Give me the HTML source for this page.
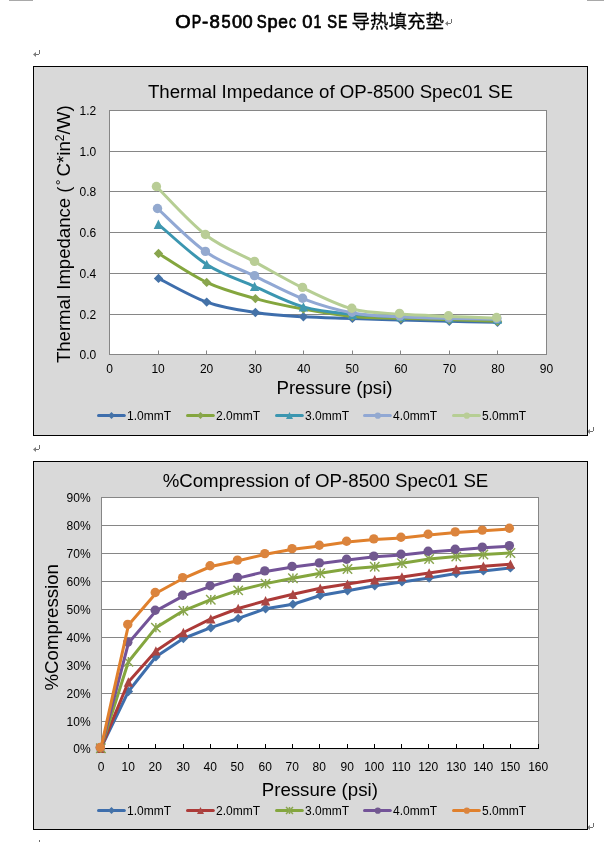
<!DOCTYPE html>
<html lang="zh">
<head>
<meta charset="utf-8">
<title>OP-8500 Spec 01 SE</title>
<style>
html,body{margin:0;padding:0;background:#fff;}
body{width:604px;height:842px;position:relative;overflow:hidden;font-family:"Liberation Sans", sans-serif;}
svg text{white-space:pre;}
</style>
</head>
<body>
<svg width="604" height="842" viewBox="0 0 604 842" font-family='"Liberation Sans", sans-serif' fill="#000" style="position:absolute;left:0;top:0;will-change:transform">
<rect x="9" y="0" width="24" height="1" fill="#a9a9a9"/>
<rect x="587" y="0" width="17" height="1" fill="#a9a9a9"/>
<g role="heading" aria-label="OP-8500 Spec 01 SE" font-size="17.7" stroke="#000" stroke-width="0.7" stroke-linejoin="round">
<text transform="translate(175.24 27.5) scale(1.12 1)">O</text>
<text transform="translate(191.82 27.5) scale(0.8 1)">P</text>
<text transform="translate(202.01 27.5) scale(1.06 1)">-</text>
<text transform="translate(209.54 27.5) scale(1.05 1)">8</text>
<text transform="translate(221.59 27.5) scale(0.93 1)">5</text>
<text transform="translate(231.94 27.5) scale(1.03 1)">0</text>
<text transform="translate(242.44 27.5) scale(1.03 1)">0</text>
<text transform="translate(256.67 27.5) scale(0.84 1)">S</text>
<text transform="translate(267.47 27.5) scale(1.03 1)">p</text>
<text transform="translate(278.22 27.5) scale(0.98 1)">e</text>
<text transform="translate(289.05 27.5) scale(0.8 1)">c</text>
<text transform="translate(302.13 27.5) scale(1.04 1)">0</text>
<text transform="translate(313.47 27.5) scale(0.8 1)">1</text>
<text transform="translate(327.18 27.5) scale(0.83 1)">S</text>
<text transform="translate(338.05 27.5) scale(0.8 1)">E</text>
</g>
<text x="351.5" y="27.6" font-size="18.5" font-family='"Liberation Sans", "Noto Sans CJK SC", sans-serif' stroke="#000" stroke-width="0.26" textLength="92.5" lengthAdjust="spacingAndGlyphs">导热填充垫</text>
<path d="M451.5 19V23M451 23.5H446" stroke="#707070" stroke-width="1" fill="none"/><path d="M445 23.5L448 21V26Z" fill="#7c7c7c"/>
<path d="M39.5 50V54M39 54.5H34" stroke="#707070" stroke-width="1" fill="none"/><path d="M33 54.5L36 52V57Z" fill="#7c7c7c"/>
<path d="M593.5 427V431M593 431.5H588" stroke="#707070" stroke-width="1" fill="none"/><path d="M587 431.5L590 429V434Z" fill="#7c7c7c"/>
<path d="M593.5 823V827M593 827.5H588" stroke="#707070" stroke-width="1" fill="none"/><path d="M587 827.5L590 825V830Z" fill="#7c7c7c"/>
<rect x="33.5" y="66.5" width="554" height="369" fill="#d9d9d9" stroke="#000" stroke-width="1"/>
<rect x="109.5" y="110.5" width="437" height="244" fill="#fff" stroke="#868686" stroke-width="1"/>
<path d="M109.5 314.5H546.5M109.5 273.5H546.5M109.5 232.5H546.5M109.5 191.5H546.5M109.5 151.5H546.5" stroke="#868686" stroke-width="1" fill="none"/>
<path d="M158.5 354.5V350.5M206.5 354.5V350.5M255.5 354.5V350.5M303.5 354.5V350.5M352.5 354.5V350.5M400.5 354.5V350.5M449.5 354.5V350.5M497.5 354.5V350.5" stroke="#868686" stroke-width="1" fill="none"/>
<text x="330.5" y="98" font-size="18.67" text-anchor="middle">Thermal Impedance of OP-8500 Spec01 SE</text>
<g font-size="12" text-anchor="end">
<text x="96.3" y="358.6">0.0</text>
<text x="96.3" y="318.6">0.2</text>
<text x="96.3" y="277.6">0.4</text>
<text x="96.3" y="236.6">0.6</text>
<text x="96.3" y="195.6">0.8</text>
<text x="96.3" y="155.6">1.0</text>
<text x="96.3" y="114.6">1.2</text>
</g>
<g font-size="12" text-anchor="middle">
<text x="109.5" y="373">0</text>
<text x="158.06" y="373">10</text>
<text x="206.61" y="373">20</text>
<text x="255.17" y="373">30</text>
<text x="303.72" y="373">40</text>
<text x="352.28" y="373">50</text>
<text x="400.83" y="373">60</text>
<text x="449.39" y="373">70</text>
<text x="497.94" y="373">80</text>
<text x="546.5" y="373">90</text>
</g>
<text x="334.5" y="394.3" font-size="18.67" text-anchor="middle">Pressure (psi)</text>
<g transform="translate(69.8 0) rotate(-90)" font-size="18.67">
<text x="-363.1" textLength="176.6" lengthAdjust="spacingAndGlyphs">Thermal Impedance (</text>
<text x="-185.2" y="-3.8" font-size="14.5">°</text>
<text x="-176.4">C*in</text>
<text x="-141.3" y="-6.2" font-size="12">2</text>
<text x="-134.4">/W)</text>
</g>
<path d="M158.5 278.4 C166.53 282.35 190.55 296.42 206.7 302.1 C222.85 307.78 239.28 310.05 255.4 312.5 C271.52 314.95 287.23 315.82 303.4 316.8 C319.57 317.78 336.15 317.85 352.4 318.4 C368.65 318.95 384.75 319.62 400.9 320.1 C417.05 320.58 433.2 320.93 449.3 321.3 C465.4 321.67 489.47 322.13 497.5 322.3" stroke="#3e6eac" fill="none" stroke-width="3" stroke-linecap="round" stroke-linejoin="round"/>
<path d="M158.5 273.7L163.2 278.4L158.5 283.1L153.8 278.4Z" fill="#4572a7"/>
<path d="M206.7 297.4L211.4 302.1L206.7 306.8L202 302.1Z" fill="#4572a7"/>
<path d="M255.4 307.8L260.1 312.5L255.4 317.2L250.7 312.5Z" fill="#4572a7"/>
<path d="M303.4 312.1L308.1 316.8L303.4 321.5L298.7 316.8Z" fill="#4572a7"/>
<path d="M352.4 313.7L357.1 318.4L352.4 323.1L347.7 318.4Z" fill="#4572a7"/>
<path d="M400.9 315.4L405.6 320.1L400.9 324.8L396.2 320.1Z" fill="#4572a7"/>
<path d="M449.3 316.6L454 321.3L449.3 326L444.6 321.3Z" fill="#4572a7"/>
<path d="M497.5 317.6L502.2 322.3L497.5 327L492.8 322.3Z" fill="#4572a7"/>
<path d="M158.5 253.5 C166.53 258.32 190.55 274.88 206.7 282.4 C222.85 289.92 239.28 294.15 255.4 298.6 C271.52 303.05 287.23 306.13 303.4 309.1 C319.57 312.07 336.15 314.87 352.4 316.4 C368.65 317.93 384.75 317.73 400.9 318.3 C417.05 318.87 433.2 319.32 449.3 319.8 C465.4 320.28 489.47 320.97 497.5 321.2" stroke="#84a63e" fill="none" stroke-width="3" stroke-linecap="round" stroke-linejoin="round"/>
<path d="M158.5 248.8L163.2 253.5L158.5 258.2L153.8 253.5Z" fill="#89a54e"/>
<path d="M206.7 277.7L211.4 282.4L206.7 287.1L202 282.4Z" fill="#89a54e"/>
<path d="M255.4 293.9L260.1 298.6L255.4 303.3L250.7 298.6Z" fill="#89a54e"/>
<path d="M303.4 304.4L308.1 309.1L303.4 313.8L298.7 309.1Z" fill="#89a54e"/>
<path d="M352.4 311.7L357.1 316.4L352.4 321.1L347.7 316.4Z" fill="#89a54e"/>
<path d="M400.9 313.6L405.6 318.3L400.9 323L396.2 318.3Z" fill="#89a54e"/>
<path d="M449.3 315.1L454 319.8L449.3 324.5L444.6 319.8Z" fill="#89a54e"/>
<path d="M497.5 316.5L502.2 321.2L497.5 325.9L492.8 321.2Z" fill="#89a54e"/>
<path d="M158.4 224.3 C166.45 230.98 190.67 254.05 206.7 264.4 C222.73 274.75 238.48 279.32 254.6 286.4 C270.72 293.48 287.07 302.25 303.4 306.9 C319.73 311.55 336.35 312.68 352.6 314.3 C368.85 315.92 384.78 316 400.9 316.6 C417.02 317.2 433.22 317.5 449.3 317.9 C465.38 318.3 489.38 318.82 497.4 319" stroke="#3b96b0" fill="none" stroke-width="3" stroke-linecap="round" stroke-linejoin="round"/>
<path d="M158.4 219.6L163.1 229L153.7 229Z" fill="#4198af"/>
<path d="M206.7 259.7L211.4 269.1L202 269.1Z" fill="#4198af"/>
<path d="M254.6 281.7L259.3 291.1L249.9 291.1Z" fill="#4198af"/>
<path d="M303.4 302.2L308.1 311.6L298.7 311.6Z" fill="#4198af"/>
<path d="M352.6 309.6L357.3 319L347.9 319Z" fill="#4198af"/>
<path d="M400.9 311.9L405.6 321.3L396.2 321.3Z" fill="#4198af"/>
<path d="M449.3 313.2L454 322.6L444.6 322.6Z" fill="#4198af"/>
<path d="M497.4 314.3L502.1 323.7L492.7 323.7Z" fill="#4198af"/>
<path d="M158.2 209.2 C166.18 216.35 189.93 240.92 206.1 252.1 C222.27 263.28 239 268.5 255.2 276.3 C271.4 284.1 287.05 292.78 303.3 298.9 C319.55 305.02 336.48 310.03 352.7 313 C368.92 315.97 384.47 315.8 400.6 316.7 C416.73 317.6 433.33 317.97 449.5 318.4 C465.67 318.83 489.58 319.15 497.6 319.3" stroke="#91a8d4" fill="none" stroke-width="3" stroke-linecap="round" stroke-linejoin="round"/>
<circle cx="157.5" cy="208.5" r="4.7" fill="#93a9cf"/>
<circle cx="205.4" cy="251.4" r="4.7" fill="#93a9cf"/>
<circle cx="254.5" cy="275.6" r="4.7" fill="#93a9cf"/>
<circle cx="302.6" cy="298.2" r="4.7" fill="#93a9cf"/>
<circle cx="352" cy="312.3" r="4.7" fill="#93a9cf"/>
<circle cx="399.9" cy="316" r="4.7" fill="#93a9cf"/>
<circle cx="448.8" cy="317.7" r="4.7" fill="#93a9cf"/>
<circle cx="496.9" cy="318.6" r="4.7" fill="#93a9cf"/>
<path d="M157.1 187.2 C165.27 195.2 189.75 222.72 206.1 235.2 C222.45 247.68 239.02 253.28 255.2 262.1 C271.38 270.92 286.98 280.28 303.2 288.1 C319.42 295.92 336.33 304.67 352.5 309 C368.67 313.33 384.08 312.87 400.2 314.1 C416.32 315.33 433.02 315.72 449.2 316.4 C465.38 317.08 489.28 317.9 497.3 318.2" stroke="#b6ce94" fill="none" stroke-width="3" stroke-linecap="round" stroke-linejoin="round"/>
<circle cx="156.4" cy="186.5" r="4.7" fill="#b9cd96"/>
<circle cx="205.4" cy="234.5" r="4.7" fill="#b9cd96"/>
<circle cx="254.5" cy="261.4" r="4.7" fill="#b9cd96"/>
<circle cx="302.5" cy="287.4" r="4.7" fill="#b9cd96"/>
<circle cx="351.8" cy="308.3" r="4.7" fill="#b9cd96"/>
<circle cx="399.5" cy="313.4" r="4.7" fill="#b9cd96"/>
<circle cx="448.5" cy="315.7" r="4.7" fill="#b9cd96"/>
<circle cx="496.6" cy="317.5" r="4.7" fill="#b9cd96"/>
<path d="M98.5 415.5H124.3" stroke="#3e6eac" stroke-width="3" stroke-linecap="round" fill="none"/>
<path d="M111.5 412L115 415.5L111.5 419L108 415.5Z" fill="#4572a7"/>
<text x="127" y="419.8" font-size="12">1.0mmT</text>
<path d="M187.5 415.5H213.3" stroke="#84a63e" stroke-width="3" stroke-linecap="round" fill="none"/>
<path d="M200.5 412L204 415.5L200.5 419L197 415.5Z" fill="#89a54e"/>
<text x="216" y="419.8" font-size="12">2.0mmT</text>
<path d="M276.5 415.5H302.3" stroke="#3b96b0" stroke-width="3" stroke-linecap="round" fill="none"/>
<path d="M289.5 412L293 419L286 419Z" fill="#4198af"/>
<text x="305" y="419.8" font-size="12">3.0mmT</text>
<path d="M364.5 415.5H390.3" stroke="#91a8d4" stroke-width="3" stroke-linecap="round" fill="none"/>
<circle cx="377.8" cy="415.7" r="3.1" fill="#93a9cf"/>
<text x="393" y="419.8" font-size="12">4.0mmT</text>
<path d="M453.5 415.5H479.3" stroke="#b6ce94" stroke-width="3" stroke-linecap="round" fill="none"/>
<circle cx="466.8" cy="415.7" r="3.1" fill="#b9cd96"/>
<text x="482" y="419.8" font-size="12">5.0mmT</text>
<path d="M39.5 445V449M39 449.5H34" stroke="#707070" stroke-width="1" fill="none"/><path d="M33 449.5L36 447V452Z" fill="#7c7c7c"/>
<rect x="33.5" y="461.5" width="554" height="368" fill="#d9d9d9" stroke="#000" stroke-width="1"/>
<rect x="101.5" y="497.5" width="437" height="251" fill="#fff" stroke="#868686" stroke-width="1"/>
<path d="M101.5 721.5H538.5M101.5 693.5H538.5M101.5 665.5H538.5M101.5 637.5H538.5M101.5 609.5H538.5M101.5 581.5H538.5M101.5 553.5H538.5M101.5 525.5H538.5" stroke="#868686" stroke-width="1" fill="none"/>
<path d="M101 748.5H539M128.5 748.5V744M155.5 748.5V744M183.5 748.5V744M210.5 748.5V744M237.5 748.5V744M265.5 748.5V744M292.5 748.5V744M319.5 748.5V744M347.5 748.5V744M374.5 748.5V744M401.5 748.5V744M428.5 748.5V744M456.5 748.5V744M483.5 748.5V744M510.5 748.5V744M538.5 748.5V744" stroke="#000" stroke-width="1" fill="none"/>
<text x="325.5" y="486.8" font-size="18.67" text-anchor="middle">%Compression of OP-8500 Spec01 SE</text>
<g font-size="12" text-anchor="end">
<text x="90.6" y="752.8">0%</text>
<text x="90.6" y="725.8">10%</text>
<text x="90.6" y="697.8">20%</text>
<text x="90.6" y="669.8">30%</text>
<text x="90.6" y="641.8">40%</text>
<text x="90.6" y="613.8">50%</text>
<text x="90.6" y="585.8">60%</text>
<text x="90.6" y="557.8">70%</text>
<text x="90.6" y="529.8">80%</text>
<text x="90.6" y="501.8">90%</text>
</g>
<g font-size="12" text-anchor="middle">
<text x="101.2" y="770.8">0</text>
<text x="128.2" y="770.8">10</text>
<text x="155.2" y="770.8">20</text>
<text x="183.2" y="770.8">30</text>
<text x="210.2" y="770.8">40</text>
<text x="237.2" y="770.8">50</text>
<text x="265.2" y="770.8">60</text>
<text x="292.2" y="770.8">70</text>
<text x="319.2" y="770.8">80</text>
<text x="347.2" y="770.8">90</text>
<text x="374.2" y="770.8">100</text>
<text x="401.2" y="770.8">110</text>
<text x="428.2" y="770.8">120</text>
<text x="456.2" y="770.8">130</text>
<text x="483.2" y="770.8">140</text>
<text x="510.2" y="770.8">150</text>
<text x="538.2" y="770.8">160</text>
</g>
<text x="319.8" y="795.5" font-size="18.67" text-anchor="middle">Pressure (psi)</text>
<text transform="translate(58.4 690.5) rotate(-90)" font-size="18.67">%Compression</text>
<path d="M100.86 748.3 L128.39 691.5 L155.89 656.8 L183.36 638.5 L210.8 627.7 L238.2 618.4 L265.57 608.7 L292.91 604.2 L320.22 595.5 L347.49 590.7 L374.73 585.8 L401.94 581.9 L429.12 578.1 L456.26 573.6 L483.37 570.9 L510.45 567.9" stroke="#3e6eac" fill="none" stroke-width="3" stroke-linecap="round" stroke-linejoin="round"/>
<path d="M100.86 743.6L105.56 748.3L100.86 753L96.16 748.3Z" fill="#4572a7"/>
<path d="M128.39 686.8L133.09 691.5L128.39 696.2L123.69 691.5Z" fill="#4572a7"/>
<path d="M155.89 652.1L160.59 656.8L155.89 661.5L151.19 656.8Z" fill="#4572a7"/>
<path d="M183.36 633.8L188.06 638.5L183.36 643.2L178.66 638.5Z" fill="#4572a7"/>
<path d="M210.8 623L215.5 627.7L210.8 632.4L206.1 627.7Z" fill="#4572a7"/>
<path d="M238.2 613.7L242.9 618.4L238.2 623.1L233.5 618.4Z" fill="#4572a7"/>
<path d="M265.57 604L270.27 608.7L265.57 613.4L260.87 608.7Z" fill="#4572a7"/>
<path d="M292.91 599.5L297.61 604.2L292.91 608.9L288.21 604.2Z" fill="#4572a7"/>
<path d="M320.22 590.8L324.92 595.5L320.22 600.2L315.52 595.5Z" fill="#4572a7"/>
<path d="M347.49 586L352.19 590.7L347.49 595.4L342.79 590.7Z" fill="#4572a7"/>
<path d="M374.73 581.1L379.43 585.8L374.73 590.5L370.03 585.8Z" fill="#4572a7"/>
<path d="M401.94 577.2L406.64 581.9L401.94 586.6L397.24 581.9Z" fill="#4572a7"/>
<path d="M429.12 573.4L433.82 578.1L429.12 582.8L424.42 578.1Z" fill="#4572a7"/>
<path d="M456.26 568.9L460.96 573.6L456.26 578.3L451.56 573.6Z" fill="#4572a7"/>
<path d="M483.37 566.2L488.07 570.9L483.37 575.6L478.67 570.9Z" fill="#4572a7"/>
<path d="M510.45 563.2L515.15 567.9L510.45 572.6L505.75 567.9Z" fill="#4572a7"/>
<path d="M100.86 748.3 L128.39 682 L155.89 650.9 L183.36 632.5 L210.8 618.9 L238.2 608.5 L265.57 600.8 L292.91 594.2 L320.22 588.3 L347.49 584.1 L374.73 579.8 L401.94 576.9 L429.12 573 L456.26 569.1 L483.37 566.2 L510.45 564.1" stroke="#ac3a38" fill="none" stroke-width="3" stroke-linecap="round" stroke-linejoin="round"/>
<path d="M100.86 743.6L105.56 753L96.16 753Z" fill="#aa4643"/>
<path d="M128.39 677.3L133.09 686.7L123.69 686.7Z" fill="#aa4643"/>
<path d="M155.89 646.2L160.59 655.6L151.19 655.6Z" fill="#aa4643"/>
<path d="M183.36 627.8L188.06 637.2L178.66 637.2Z" fill="#aa4643"/>
<path d="M210.8 614.2L215.5 623.6L206.1 623.6Z" fill="#aa4643"/>
<path d="M238.2 603.8L242.9 613.2L233.5 613.2Z" fill="#aa4643"/>
<path d="M265.57 596.1L270.27 605.5L260.87 605.5Z" fill="#aa4643"/>
<path d="M292.91 589.5L297.61 598.9L288.21 598.9Z" fill="#aa4643"/>
<path d="M320.22 583.6L324.92 593L315.52 593Z" fill="#aa4643"/>
<path d="M347.49 579.4L352.19 588.8L342.79 588.8Z" fill="#aa4643"/>
<path d="M374.73 575.1L379.43 584.5L370.03 584.5Z" fill="#aa4643"/>
<path d="M401.94 572.2L406.64 581.6L397.24 581.6Z" fill="#aa4643"/>
<path d="M429.12 568.3L433.82 577.7L424.42 577.7Z" fill="#aa4643"/>
<path d="M456.26 564.4L460.96 573.8L451.56 573.8Z" fill="#aa4643"/>
<path d="M483.37 561.5L488.07 570.9L478.67 570.9Z" fill="#aa4643"/>
<path d="M510.45 559.4L515.15 568.8L505.75 568.8Z" fill="#aa4643"/>
<path d="M100.86 748.3 L128.39 661.8 L155.89 627.6 L183.36 610.8 L210.8 599.7 L238.2 590.4 L265.57 583.6 L292.91 578.3 L320.22 573.2 L347.49 569 L374.73 566.7 L401.94 563.2 L429.12 559 L456.26 556.6 L483.37 554.5 L510.45 553" stroke="#84a63e" fill="none" stroke-width="3" stroke-linecap="round" stroke-linejoin="round"/>
<path d="M96.16 743.6L105.56 753M96.16 753L105.56 743.6M100.86 743.6L100.86 753" stroke="#89a54e" stroke-width="1.45" fill="none"/>
<path d="M123.69 657.1L133.09 666.5M123.69 666.5L133.09 657.1M128.39 657.1L128.39 666.5" stroke="#89a54e" stroke-width="1.45" fill="none"/>
<path d="M151.19 622.9L160.59 632.3M151.19 632.3L160.59 622.9M155.89 622.9L155.89 632.3" stroke="#89a54e" stroke-width="1.45" fill="none"/>
<path d="M178.66 606.1L188.06 615.5M178.66 615.5L188.06 606.1M183.36 606.1L183.36 615.5" stroke="#89a54e" stroke-width="1.45" fill="none"/>
<path d="M206.1 595L215.5 604.4M206.1 604.4L215.5 595M210.8 595L210.8 604.4" stroke="#89a54e" stroke-width="1.45" fill="none"/>
<path d="M233.5 585.7L242.9 595.1M233.5 595.1L242.9 585.7M238.2 585.7L238.2 595.1" stroke="#89a54e" stroke-width="1.45" fill="none"/>
<path d="M260.87 578.9L270.27 588.3M260.87 588.3L270.27 578.9M265.57 578.9L265.57 588.3" stroke="#89a54e" stroke-width="1.45" fill="none"/>
<path d="M288.21 573.6L297.61 583M288.21 583L297.61 573.6M292.91 573.6L292.91 583" stroke="#89a54e" stroke-width="1.45" fill="none"/>
<path d="M315.52 568.5L324.92 577.9M315.52 577.9L324.92 568.5M320.22 568.5L320.22 577.9" stroke="#89a54e" stroke-width="1.45" fill="none"/>
<path d="M342.79 564.3L352.19 573.7M342.79 573.7L352.19 564.3M347.49 564.3L347.49 573.7" stroke="#89a54e" stroke-width="1.45" fill="none"/>
<path d="M370.03 562L379.43 571.4M370.03 571.4L379.43 562M374.73 562L374.73 571.4" stroke="#89a54e" stroke-width="1.45" fill="none"/>
<path d="M397.24 558.5L406.64 567.9M397.24 567.9L406.64 558.5M401.94 558.5L401.94 567.9" stroke="#89a54e" stroke-width="1.45" fill="none"/>
<path d="M424.42 554.3L433.82 563.7M424.42 563.7L433.82 554.3M429.12 554.3L429.12 563.7" stroke="#89a54e" stroke-width="1.45" fill="none"/>
<path d="M451.56 551.9L460.96 561.3M451.56 561.3L460.96 551.9M456.26 551.9L456.26 561.3" stroke="#89a54e" stroke-width="1.45" fill="none"/>
<path d="M478.67 549.8L488.07 559.2M478.67 559.2L488.07 549.8M483.37 549.8L483.37 559.2" stroke="#89a54e" stroke-width="1.45" fill="none"/>
<path d="M505.75 548.3L515.15 557.7M505.75 557.7L515.15 548.3M510.45 548.3L510.45 557.7" stroke="#89a54e" stroke-width="1.45" fill="none"/>
<path d="M100.96 748.3 L128.46 643 L155.93 610.9 L183.36 595.9 L210.77 586.4 L238.14 578.1 L265.48 571.6 L292.78 567.1 L320.06 563.6 L347.3 559.9 L374.5 556.8 L401.68 554.9 L428.82 552 L455.93 549.9 L483.01 547.8 L510.06 546.3" stroke="#735398" fill="none" stroke-width="3" stroke-linecap="round" stroke-linejoin="round"/>
<circle cx="100.26" cy="747.6" r="4.7" fill="#71588f"/>
<circle cx="127.76" cy="642.3" r="4.7" fill="#71588f"/>
<circle cx="155.23" cy="610.2" r="4.7" fill="#71588f"/>
<circle cx="182.66" cy="595.2" r="4.7" fill="#71588f"/>
<circle cx="210.07" cy="585.7" r="4.7" fill="#71588f"/>
<circle cx="237.44" cy="577.4" r="4.7" fill="#71588f"/>
<circle cx="264.78" cy="570.9" r="4.7" fill="#71588f"/>
<circle cx="292.08" cy="566.4" r="4.7" fill="#71588f"/>
<circle cx="319.36" cy="562.9" r="4.7" fill="#71588f"/>
<circle cx="346.6" cy="559.2" r="4.7" fill="#71588f"/>
<circle cx="373.8" cy="556.1" r="4.7" fill="#71588f"/>
<circle cx="400.98" cy="554.2" r="4.7" fill="#71588f"/>
<circle cx="428.12" cy="551.3" r="4.7" fill="#71588f"/>
<circle cx="455.23" cy="549.2" r="4.7" fill="#71588f"/>
<circle cx="482.31" cy="547.1" r="4.7" fill="#71588f"/>
<circle cx="509.36" cy="545.6" r="4.7" fill="#71588f"/>
<path d="M100.96 748.2 L128.46 625.1 L155.93 593.2 L183.36 578.3 L210.77 566.5 L238.14 560.8 L265.48 554.3 L292.78 549.3 L320.06 545.9 L347.3 541.9 L374.5 539.6 L401.68 537.9 L428.82 535 L455.93 532.6 L483.01 530.8 L510.06 529" stroke="#e0802c" fill="none" stroke-width="3" stroke-linecap="round" stroke-linejoin="round"/>
<circle cx="100.26" cy="747.5" r="4.7" fill="#db843d"/>
<circle cx="127.76" cy="624.4" r="4.7" fill="#db843d"/>
<circle cx="155.23" cy="592.5" r="4.7" fill="#db843d"/>
<circle cx="182.66" cy="577.6" r="4.7" fill="#db843d"/>
<circle cx="210.07" cy="565.8" r="4.7" fill="#db843d"/>
<circle cx="237.44" cy="560.1" r="4.7" fill="#db843d"/>
<circle cx="264.78" cy="553.6" r="4.7" fill="#db843d"/>
<circle cx="292.08" cy="548.6" r="4.7" fill="#db843d"/>
<circle cx="319.36" cy="545.2" r="4.7" fill="#db843d"/>
<circle cx="346.6" cy="541.2" r="4.7" fill="#db843d"/>
<circle cx="373.8" cy="538.9" r="4.7" fill="#db843d"/>
<circle cx="400.98" cy="537.2" r="4.7" fill="#db843d"/>
<circle cx="428.12" cy="534.3" r="4.7" fill="#db843d"/>
<circle cx="455.23" cy="531.9" r="4.7" fill="#db843d"/>
<circle cx="482.31" cy="530.1" r="4.7" fill="#db843d"/>
<circle cx="509.36" cy="528.3" r="4.7" fill="#db843d"/>
<path d="M98.5 810.5H124.3" stroke="#3e6eac" stroke-width="3" stroke-linecap="round" fill="none"/>
<path d="M111.5 807L115 810.5L111.5 814L108 810.5Z" fill="#4572a7"/>
<text x="127" y="814.8" font-size="12">1.0mmT</text>
<path d="M187.5 810.5H213.3" stroke="#ac3a38" stroke-width="3" stroke-linecap="round" fill="none"/>
<path d="M200.5 807L204 814L197 814Z" fill="#aa4643"/>
<text x="216" y="814.8" font-size="12">2.0mmT</text>
<path d="M276.5 810.5H302.3" stroke="#84a63e" stroke-width="3" stroke-linecap="round" fill="none"/>
<path d="M286 807L293 814M286 814L293 807M289.5 807L289.5 814" stroke="#89a54e" stroke-width="1.45" fill="none"/>
<text x="305" y="814.8" font-size="12">3.0mmT</text>
<path d="M364.5 810.5H390.3" stroke="#735398" stroke-width="3" stroke-linecap="round" fill="none"/>
<circle cx="377.8" cy="810.7" r="3.1" fill="#71588f"/>
<text x="393" y="814.8" font-size="12">4.0mmT</text>
<path d="M453.5 810.5H479.3" stroke="#e0802c" stroke-width="3" stroke-linecap="round" fill="none"/>
<circle cx="466.8" cy="810.7" r="3.1" fill="#db843d"/>
<text x="482" y="814.8" font-size="12">5.0mmT</text>
<path d="M39.5 840V842" stroke="#6a6a6a" stroke-width="1"/>
</svg>
</body>
</html>
